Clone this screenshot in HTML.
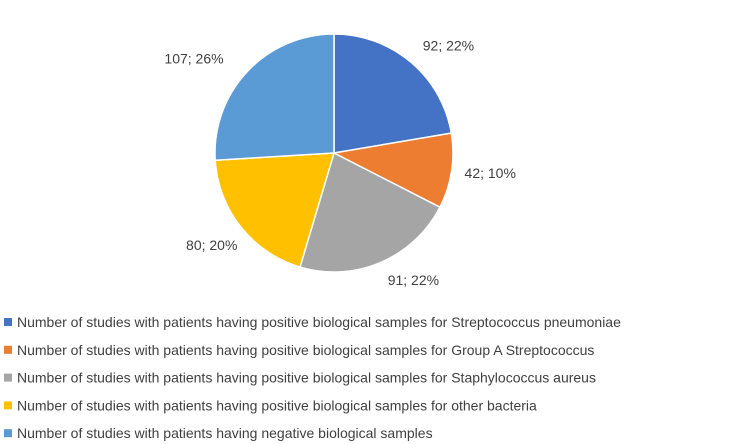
<!DOCTYPE html>
<html><head><meta charset="utf-8"><style>
body{margin:0;background:#fff;width:744px;height:444px;overflow:hidden;font-family:"Liberation Sans",sans-serif}
svg{display:block}
</style></head><body>
<svg id="chart" width="744" height="444" viewBox="0 0 744 444">
<g id="slices"></g>
<g id="labels"></g>
<g id="legend"></g>
</svg>
<script>
const categories=["Number of studies with patients having positive biological samples for Streptococcus pneumoniae","Number of studies with patients having positive biological samples for Group A Streptococcus","Number of studies with patients having positive biological samples for Staphylococcus aureus","Number of studies with patients having positive biological samples for other bacteria","Number of studies with patients having negative biological samples"];
const values=[92,42,91,80,107];
const percentLabels=["22%","10%","22%","20%","26%"];
const colors=["#4472C4","#ED7D31","#A5A5A5","#FFC000","#5B9BD5"];
const NS="http://www.w3.org/2000/svg";
const cx=334,cy=153,r=119;
const labelNudgeX=[17,7,20,-4,-30];
const labelNudgeY=[8,-3,-12,-2,9];
const total=values.reduce((a,b)=>a+b,0);
const sl=document.getElementById('slices'),lb=document.getElementById('labels'),lg=document.getElementById('legend');
function pt(a,rr){return [cx+rr*Math.sin(a),cy-rr*Math.cos(a)];}
let acc=0;
values.forEach((v,i)=>{
  const a0=acc/total*2*Math.PI;acc+=v;const a1=acc/total*2*Math.PI;
  const p0=pt(a0,r),p1=pt(a1,r);const large=(a1-a0)>Math.PI?1:0;
  const p=document.createElementNS(NS,'path');
  p.setAttribute('d',`M${cx},${cy}L${p0[0]},${p0[1]}A${r},${r} 0 ${large} 1 ${p1[0]},${p1[1]}Z`);
  p.setAttribute('fill',colors[i]);p.setAttribute('stroke','#fff');p.setAttribute('stroke-width','1.5');
  
  
  sl.appendChild(p);
  const am=(a0+a1)/2;const lp=pt(am,r+32);
  const t=document.createElementNS(NS,'text');
  t.setAttribute('x',lp[0]+labelNudgeX[i]);t.setAttribute('y',lp[1]+5+labelNudgeY[i]);
  t.setAttribute('text-anchor','middle');t.setAttribute('font-size','14');t.setAttribute('fill','#404040');
  t.textContent=v+'; '+percentLabels[i];
  
  
  lb.appendChild(t);
});
categories.forEach((c,i)=>{
  const y=322+i*27.8;
  const g=document.createElementNS(NS,'g');
  
  
  const s=document.createElementNS(NS,'rect');
  s.setAttribute('x',4);s.setAttribute('y',y-4);s.setAttribute('width',8);s.setAttribute('height',8);s.setAttribute('fill',colors[i]);
  const t=document.createElementNS(NS,'text');
  t.setAttribute('x',17);t.setAttribute('y',y+5);t.setAttribute('font-size','14');t.setAttribute('fill','#404040');
  t.textContent=c;
  g.appendChild(s);g.appendChild(t);lg.appendChild(g);
});
</script>
</body></html>
